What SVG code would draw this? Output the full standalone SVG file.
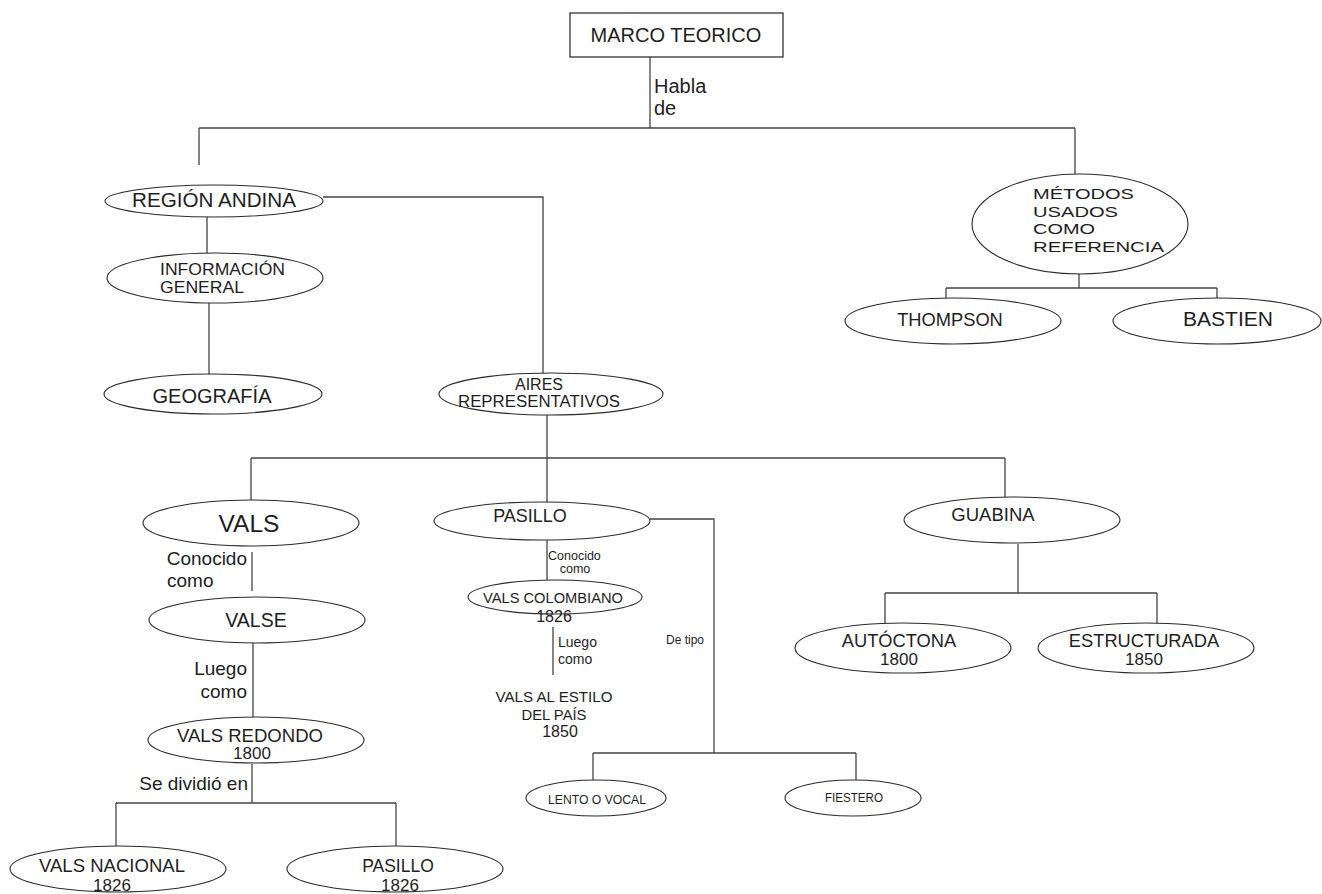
<svg xmlns="http://www.w3.org/2000/svg" width="1322" height="894" viewBox="0 0 1322 894">
<style>
  .bg { fill: #ffffff; }
  .box { fill: #ffffff; stroke: #333333; stroke-width: 1.3; }
  .ell { fill: #ffffff; stroke: #2a2a2a; stroke-width: 1.1; }
  .conn { fill: none; stroke: #444444; stroke-width: 1.3; }
  text { font-family: "Liberation Sans", Arial, sans-serif; fill: #1e1e1e; }
  .c { text-anchor: middle; }
  .e { text-anchor: end; }
</style>
<rect class="bg" x="0" y="0" width="1322" height="894"/>

<g id="connectors">
  <path class="conn" d="M650,57 V128"/>
  <path class="conn" d="M199,128 H1075"/>
  <path class="conn" d="M199,128 V165"/>
  <path class="conn" d="M1075,128 V174"/>
  <path class="conn" d="M207,217 V253"/>
  <path class="conn" d="M209,303 V375"/>
  <path class="conn" d="M323,197 H543 V373"/>
  <path class="conn" d="M1079,274 V288"/>
  <path class="conn" d="M946,288 H1217"/>
  <path class="conn" d="M946,288 V298"/>
  <path class="conn" d="M1217,288 V298"/>
  <path class="conn" d="M547,415 V503"/>
  <path class="conn" d="M251,458 H1005"/>
  <path class="conn" d="M251,458 V500"/>
  <path class="conn" d="M1005,458 V497"/>
  <path class="conn" d="M252,552 V591"/>
  <path class="conn" d="M253,643 V717"/>
  <path class="conn" d="M252,764 V803"/>
  <path class="conn" d="M116,803 H396"/>
  <path class="conn" d="M116,803 V846"/>
  <path class="conn" d="M396,803 V846"/>
  <path class="conn" d="M547,540 V580"/>
  <path class="conn" d="M553,627 V675"/>
  <path class="conn" d="M650,519 H714 V753"/>
  <path class="conn" d="M593,753 H856"/>
  <path class="conn" d="M593,753 V780"/>
  <path class="conn" d="M856,753 V780"/>
  <path class="conn" d="M1018,544 V593"/>
  <path class="conn" d="M885,593 H1157"/>
  <path class="conn" d="M885,593 V625"/>
  <path class="conn" d="M1157,593 V625"/>
</g>

<g id="labels">
  <text x="654" y="93" font-size="20">Habla</text>
  <text x="654" y="115" font-size="20">de</text>
  <text class="e" x="247" y="565" font-size="19">Conocido</text>
  <text x="167" y="587" font-size="19">como</text>
  <text class="e" x="247" y="675" font-size="19">Luego</text>
  <text class="e" x="247" y="698" font-size="19">como</text>
  <text class="e" x="248" y="790" font-size="19">Se dividió en</text>
  <text x="548" y="560" font-size="12.5">Conocido</text>
  <text class="c" x="575" y="573" font-size="12.5">como</text>
  <text x="558" y="647" font-size="14">Luego</text>
  <text x="558" y="664" font-size="14">como</text>
  <text x="666" y="644" font-size="12">De tipo</text>
</g>

<g id="n-marco">
  <rect class="box" x="570" y="13" width="213" height="44"/>
  <text class="c" x="676" y="42" font-size="20">MARCO TEORICO</text>
</g>

<g id="n-region">
  <ellipse class="ell" cx="214" cy="201" rx="109" ry="16"/>
  <text class="c" x="214" y="207" font-size="19.5" textLength="164" lengthAdjust="spacingAndGlyphs">REGIÓN ANDINA</text>
</g>

<g id="n-info">
  <ellipse class="ell" cx="215" cy="278" rx="108" ry="25"/>
  <text x="160" y="275" font-size="17" textLength="125" lengthAdjust="spacingAndGlyphs">INFORMACIÓN</text>
  <text x="160" y="293" font-size="17" textLength="84" lengthAdjust="spacingAndGlyphs">GENERAL</text>
</g>

<g id="n-geografia">
  <ellipse class="ell" cx="213" cy="394" rx="109" ry="20"/>
  <text class="c" x="212" y="403" font-size="19.5" textLength="119" lengthAdjust="spacingAndGlyphs">GEOGRAFÍA</text>
</g>

<g id="n-aires">
  <ellipse class="ell" cx="551" cy="394" rx="112" ry="21"/>
  <text class="c" x="539" y="390" font-size="16">AIRES</text>
  <text class="c" x="539" y="407" font-size="16" textLength="162" lengthAdjust="spacingAndGlyphs">REPRESENTATIVOS</text>
</g>

<g id="n-metodos">
  <ellipse class="ell" cx="1080" cy="224" rx="108" ry="50"/>
  <text x="1033" y="199" font-size="15" textLength="101" lengthAdjust="spacingAndGlyphs">MÉTODOS</text>
  <text x="1033" y="217" font-size="15" textLength="85" lengthAdjust="spacingAndGlyphs">USADOS</text>
  <text x="1033" y="234" font-size="15" textLength="62" lengthAdjust="spacingAndGlyphs">COMO</text>
  <text x="1033" y="252" font-size="15" textLength="131" lengthAdjust="spacingAndGlyphs">REFERENCIA</text>
</g>

<g id="n-thompson">
  <ellipse class="ell" cx="953" cy="321" rx="108" ry="23"/>
  <text class="c" x="950" y="326" font-size="18.3">THOMPSON</text>
</g>

<g id="n-bastien">
  <ellipse class="ell" cx="1217" cy="321" rx="104" ry="23"/>
  <text class="c" x="1228" y="326" font-size="20" textLength="90" lengthAdjust="spacingAndGlyphs">BASTIEN</text>
</g>

<g id="n-vals">
  <ellipse class="ell" cx="251" cy="523" rx="108" ry="23"/>
  <text class="c" x="249" y="532" font-size="24.5">VALS</text>
</g>

<g id="n-valse">
  <ellipse class="ell" cx="257" cy="620" rx="108" ry="23"/>
  <text class="c" x="256" y="627" font-size="19.5">VALSE</text>
</g>

<g id="n-vals-redondo">
  <ellipse class="ell" cx="256" cy="740" rx="108" ry="23"/>
  <text class="c" x="250" y="742" font-size="18" textLength="146" lengthAdjust="spacingAndGlyphs">VALS REDONDO</text>
  <text class="c" x="252" y="759" font-size="17">1800</text>
</g>

<g id="n-vals-nacional">
  <ellipse class="ell" cx="118" cy="869" rx="108" ry="23"/>
  <text class="c" x="112" y="872" font-size="17.5" textLength="146" lengthAdjust="spacingAndGlyphs">VALS NACIONAL</text>
  <text class="c" x="112" y="891" font-size="17">1826</text>
</g>

<g id="n-pasillo-1826">
  <ellipse class="ell" cx="395" cy="869" rx="108" ry="23"/>
  <text class="c" x="398" y="872" font-size="17.5">PASILLO</text>
  <text class="c" x="400" y="891" font-size="17">1826</text>
</g>

<g id="n-pasillo">
  <ellipse class="ell" cx="542" cy="521" rx="108" ry="19"/>
  <text class="c" x="530" y="522" font-size="18">PASILLO</text>
</g>

<g id="n-vals-colombiano">
  <ellipse class="ell" cx="555" cy="597" rx="87" ry="17"/>
  <text class="c" x="553" y="603" font-size="15.5" textLength="140" lengthAdjust="spacingAndGlyphs">VALS COLOMBIANO</text>
  <text class="c" x="554" y="622" font-size="16">1826</text>
</g>

<g id="n-vals-estilo">
  <text class="c" x="554" y="702" font-size="15.5" textLength="117" lengthAdjust="spacingAndGlyphs">VALS AL ESTILO</text>
  <text class="c" x="554" y="720" font-size="15.5" textLength="65" lengthAdjust="spacingAndGlyphs">DEL PAÍS</text>
  <text class="c" x="560" y="737" font-size="16">1850</text>
</g>

<g id="n-lento">
  <ellipse class="ell" cx="596" cy="798" rx="70" ry="18"/>
  <text class="c" x="597" y="804" font-size="12.5" textLength="98" lengthAdjust="spacingAndGlyphs">LENTO O VOCAL</text>
</g>

<g id="n-fiestero">
  <ellipse class="ell" cx="853" cy="798" rx="68" ry="18"/>
  <text class="c" x="854" y="802" font-size="12" textLength="58" lengthAdjust="spacingAndGlyphs">FIESTERO</text>
</g>

<g id="n-guabina">
  <ellipse class="ell" cx="1012" cy="520" rx="108" ry="23"/>
  <text class="c" x="993" y="521" font-size="18.5">GUABINA</text>
</g>

<g id="n-autoctona">
  <ellipse class="ell" cx="903" cy="648" rx="108" ry="25"/>
  <text class="c" x="899" y="647" font-size="18.3">AUTÓCTONA</text>
  <text class="c" x="899" y="665" font-size="17">1800</text>
</g>

<g id="n-estructurada">
  <ellipse class="ell" cx="1146" cy="648" rx="108" ry="25"/>
  <text class="c" x="1144" y="647" font-size="18.3">ESTRUCTURADA</text>
  <text class="c" x="1144" y="665" font-size="17">1850</text>
</g>
</svg>
